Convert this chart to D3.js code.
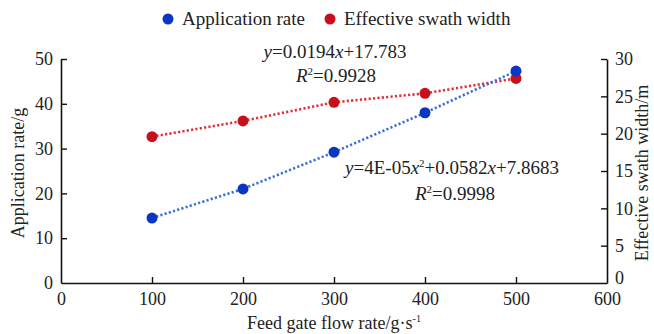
<!DOCTYPE html>
<html><head><meta charset="utf-8">
<script src="https://cdn.jsdelivr.net/npm/d3@7"></script>
<style>body{margin:0;background:#fff}svg{display:block}text{font-family:"Liberation Serif","Times New Roman",serif;fill:#222}</style>
</head><body><svg id="c" width="654" height="334"></svg>
<script>
const flowRates = [100, 200, 300, 400, 500];
const applicationRate = [14.5, 21.0, 29.2, 38.0, 47.3];
const swathWidth = [19.6, 21.7, 24.2, 25.4, 27.4];
const xTicks = [0, 100, 200, 300, 400, 500, 600];
const yLeftTicks = [0, 10, 20, 30, 40, 50];
const yRightTicks = [0, 5, 10, 15, 20, 25, 30];
const seriesNames = ["Application rate", "Effective swath width"];
const colors = {app: "#0a36c4", appLine: "#3d6fd6", sw: "#c8101c", swLine: "#e0303a"};

const svg = d3.select("#c");
const m = {l: 61, r: 607, t: 59, b: 283};
const x = d3.scaleLinear().domain([0, 600]).range([m.l, m.r]);
const yL = d3.scaleLinear().domain([0, 50]).range([m.b, m.t]);
const yR = d3.scaleLinear().domain([0, 30]).range([m.b, m.t]);

const fs = "19px", fsT = "18px", fsTick = "18px";
// axes
const gx = svg.append("g").attr("transform", `translate(0,${m.b})`)
  .call(d3.axisBottom(x).tickValues(xTicks).tickSizeInner(-6).tickSizeOuter(0).tickPadding(9));
const gl = svg.append("g").attr("transform", `translate(${m.l},0)`)
  .call(d3.axisLeft(yL).tickValues(yLeftTicks).tickSizeInner(-6).tickSizeOuter(0).tickPadding(8));
const gr = svg.append("g").attr("transform", `translate(${m.r},0)`)
  .call(d3.axisRight(yR).tickValues(yRightTicks).tickSizeInner(-6).tickSizeOuter(0).tickPadding(8));
[gx, gl, gr].forEach(g => {
  g.attr("font-size", null).attr("font-family", null);
  g.selectAll("path.domain").attr("stroke", "#111").attr("stroke-width", 1.6);
  g.selectAll(".tick line").attr("stroke", "#111").attr("stroke-width", 1.4);
  g.selectAll(".tick text").style("font-size", fsTick).attr("fill", "#222");
});
gx.selectAll(".tick").filter(d => d === 0 || d === 600).select("line").remove();
gl.selectAll(".tick").filter(d => d === 0).select("line").remove();
gr.selectAll(".tick").filter(d => d === 0).select("line").remove();
gr.selectAll(".tick").filter(d => d === 0).select("text").attr("dy", "0.05em");

// axis titles
svg.append("text").attr("transform", `translate(24,${(m.t + m.b) / 2 + 2}) rotate(-90)`)
  .attr("text-anchor", "middle").style("font-size", fsT).text("Application rate/g");
svg.append("text").attr("transform", `translate(648,${(m.t + m.b) / 2 + 2}) rotate(-90)`)
  .attr("text-anchor", "middle").style("font-size", fsT).text("Effective swath width/m");
const xt = svg.append("text").attr("x", 334).attr("y", 329).attr("text-anchor", "middle").style("font-size", fsT);
xt.append("tspan").text("Feed gate flow rate/g·s");
xt.append("tspan").attr("dy", -7).style("font-size", "10px").text("-1");

// series lines
const lineL = d3.line().x((d, i) => x(flowRates[i])).y(d => yL(d));
const lineR = d3.line().x((d, i) => x(flowRates[i])).y(d => yR(d));
svg.append("path").attr("d", lineR(swathWidth)).attr("fill", "none")
  .attr("stroke", colors.swLine).attr("stroke-width", 2.6).attr("stroke-dasharray", "2.2,2.2");
svg.append("path").attr("d", lineL(applicationRate)).attr("fill", "none")
  .attr("stroke", colors.appLine).attr("stroke-width", 2.6).attr("stroke-dasharray", "2.2,2.2");

svg.selectAll("circle.sw").data(swathWidth).enter().append("circle")
  .attr("cx", (d, i) => x(flowRates[i])).attr("cy", d => yR(d)).attr("r", 5.5).attr("fill", colors.sw);
svg.selectAll("circle.app").data(applicationRate).enter().append("circle")
  .attr("cx", (d, i) => x(flowRates[i])).attr("cy", d => yL(d)).attr("r", 5.5).attr("fill", colors.app);

// legend
const lg = [[168, seriesNames[0], colors.app], [330, seriesNames[1], colors.sw]];
lg.forEach(([lx, t, c]) => {
  svg.append("circle").attr("cx", lx).attr("cy", 19).attr("r", 5.5).attr("fill", c);
  svg.append("text").attr("x", lx + 14).attr("y", 25).style("font-size", fs).text(t);
});

// equations
function eq(xc, y, parts) {
  const t = svg.append("text").attr("x", xc).attr("y", y).attr("text-anchor", "middle").style("font-size", fs);
  parts.forEach(p => {
    const s = t.append("tspan").text(p[0]);
    if (p[1] === "i") s.style("font-style", "italic");
    if (p[1] === "sup") s.attr("dy", -7).style("font-size", "11px");
    if (p[1] === "after") s.attr("dy", 7);
  });
}
eq(335, 58, [["y", "i"], ["=0.0194"], ["x", "i"], ["+17.783"]]);
eq(336, 82, [["R", "i"], ["2", "sup"], ["=0.9928", "after"]]);
eq(452, 174, [["y", "i"], ["=4E-05"], ["x", "i"], ["2", "sup"], ["+0.0582", "after"], ["x", "i"], ["+7.8683"]]);
eq(455, 200, [["R", "i"], ["2", "sup"], ["=0.9998", "after"]]);
</script></body></html>
